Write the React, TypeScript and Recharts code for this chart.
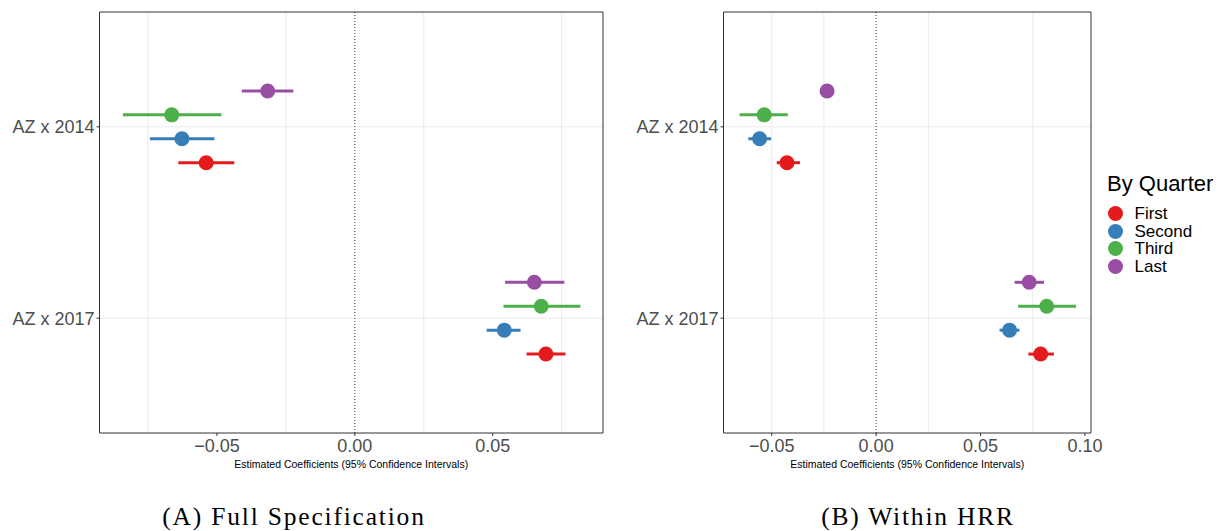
import { ScatterChart, Scatter, XAxis, YAxis, CartesianGrid, ReferenceLine, ReferenceArea, ErrorBar } from 'recharts'

const categories = ['AZ x 2014', 'AZ x 2017']
const quarters = ['First', 'Second', 'Third', 'Last']
const colors = ['#E41A1C', '#377EB8', '#4DAF4A', '#984EA3']

// (A) full specification — one row per quarter, columns follow categories
const fullEst = [[-0.0539, 0.0693], [-0.0627, 0.0542], [-0.0664, 0.0676], [-0.0316, 0.0651]]
const fullLow = [[-0.064, 0.0623], [-0.0743, 0.0478], [-0.0841, 0.0539], [-0.041, 0.0545]]
const fullHigh = [[-0.0437, 0.0764], [-0.0509, 0.0601], [-0.0484, 0.0818], [-0.0223, 0.076]]

// (B) within HRR
const hrrEst = [[-0.0427, 0.0788], [-0.0558, 0.0639], [-0.0536, 0.0817], [-0.0235, 0.0733]]
const hrrLow = [[-0.0476, 0.0729], [-0.0612, 0.0591], [-0.0654, 0.068], [-0.025, 0.0663]]
const hrrHigh = [[-0.0365, 0.0851], [-0.0503, 0.0686], [-0.0423, 0.0957], [-0.0222, 0.0804]]

const fullTicks = [-0.05, 0, 0.05]
const fullMinor = [-0.075, -0.025, 0.025, 0.075]
const hrrTicks = [-0.05, 0, 0.05, 0.1]
const hrrMinor = [-0.025, 0.025, 0.075]

const FONT = '"Liberation Sans", Arial, sans-serif'
const SERIF = '"Liberation Serif", serif'
const Y_LO = 0.4
const Y_HI = 2.6
const DODGE = 0.5

function catPos(j: number) {
  return categories.length - j
}

function fmt(v: number) {
  const s = Math.abs(v).toFixed(2)
  return v < 0 ? '\u2212' + s : s
}

function dot(color: string) {
  return (p: any) => <circle cx={p.cx} cy={p.cy} r={7.5} fill={color} />
}

interface PanelProps {
  est: number[][]
  low: number[][]
  high: number[][]
  domain: [number, number]
  ticks: number[]
  minor: number[]
  width: number
  yWidth: number
  right: number
}

function Panel({ est, low, high, domain, ticks, minor, width, yWidth, right }: PanelProps) {
  const step = DODGE / quarters.length
  return (
    <ScatterChart width={width} height={480} margin={{ top: 12, right, left: 0, bottom: 0 }}>
      <CartesianGrid
        stroke="#ebebeb"
        verticalValues={[...ticks, ...minor]}
        horizontalValues={[1, 2]}
      />
      <XAxis
        type="number"
        dataKey="x"
        domain={domain}
        allowDataOverflow
        ticks={ticks}
        tickFormatter={fmt}
        height={47}
        axisLine={false}
        tickSize={3}
        tickMargin={3}
        tickLine={{ stroke: '#333' }}
        tick={{ fill: '#4d4d4d', fontSize: 18, fontFamily: FONT }}
        label={{
          value: 'Estimated Coefficients (95% Confidence Intervals)',
          position: 'insideBottom',
          offset: 12,
          fill: '#000',
          fontSize: 10.5,
          fontFamily: FONT,
        }}
      />
      <YAxis
        type="number"
        dataKey="y"
        domain={[Y_LO, Y_HI]}
        allowDataOverflow
        ticks={[1, 2]}
        tickFormatter={(v: number) => categories[categories.length - v]}
        width={yWidth}
        axisLine={false}
        tickSize={3}
        tickMargin={2}
        tickLine={{ stroke: '#333' }}
        tick={{ fill: '#4d4d4d', fontSize: 18, fontFamily: FONT }}
      />
      <ReferenceLine x={0} stroke="#333" strokeDasharray="1 2" />
      {quarters.map((q, i) => {
        const data = categories.map((c, j) => ({
          name: c,
          x: est[i][j],
          y: catPos(j) + (i - (quarters.length - 1) / 2) * step,
          err: [est[i][j] - low[i][j], high[i][j] - est[i][j]],
        }))
        return (
          <Scatter key={q} name={q} data={data} fill={colors[i]} shape={dot(colors[i])} isAnimationActive={false}>
            <ErrorBar dataKey="err" direction="x" width={0} stroke={colors[i]} strokeWidth={3} />
          </Scatter>
        )
      })}
      <ReferenceArea x1={domain[0]} x2={domain[1]} y1={Y_LO} y2={Y_HI} fill="none" stroke="#333" strokeWidth={1} />
    </ScatterChart>
  )
}

export default function App() {
  return (
    <div style={{ position: 'absolute', left: 0, top: 0, width: 1222, height: 531, background: '#fff', overflow: 'hidden' }}>
      <div style={{ position: 'absolute', left: 0, top: 0 }}>
        <Panel
          est={fullEst}
          low={fullLow}
          high={fullHigh}
          domain={[-0.0926, 0.09]}
          ticks={fullTicks}
          minor={fullMinor}
          width={610}
          yWidth={99.5}
          right={7}
        />
      </div>
      <div style={{ position: 'absolute', left: 610, top: 0 }}>
        <Panel
          est={hrrEst}
          low={hrrLow}
          high={hrrHigh}
          domain={[-0.0731, 0.1029]}
          ticks={hrrTicks}
          minor={hrrMinor}
          width={500}
          yWidth={113.5}
          right={19}
        />
      </div>
      <div style={{ position: 'absolute', left: 1107, top: 170, fontFamily: FONT, color: '#000' }}>
        <div style={{ fontSize: 22, lineHeight: '28px', marginBottom: 7 }}>By Quarter</div>
        {quarters.map((q, i) => (
          <div key={q} style={{ display: 'flex', alignItems: 'center', height: 17.5 }}>
            <span style={{ width: 15, height: 15, borderRadius: 7.5, background: colors[i], marginLeft: 0.5, marginRight: 12 }} />
            <span style={{ fontSize: 17, lineHeight: '17px' }}>{q}</span>
          </div>
        ))}
      </div>
      <div style={{ position: 'absolute', left: 0, width: 588, top: 504, lineHeight: '25px', textAlign: 'center', fontFamily: SERIF, fontSize: 25.5, letterSpacing: 1.8 }}>
        (A) Full Specification
      </div>
      <div style={{ position: 'absolute', left: 718, width: 400, top: 504, lineHeight: '25px', textAlign: 'center', fontFamily: SERIF, fontSize: 25.5, letterSpacing: 1.8 }}>
        (B) Within HRR
      </div>
    </div>
  )
}
